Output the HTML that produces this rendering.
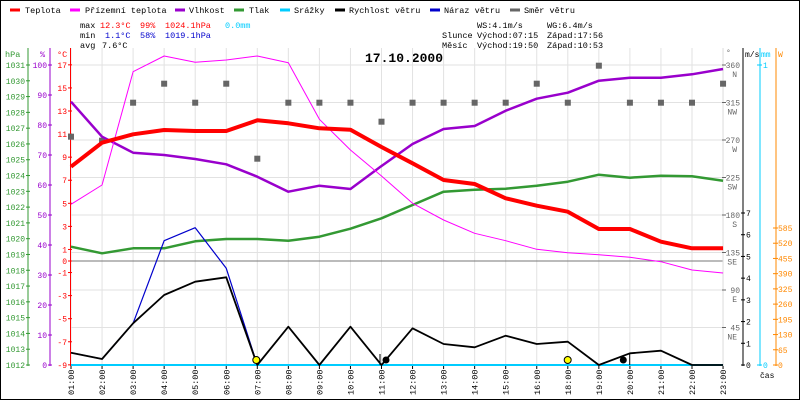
<!DOCTYPE html>
<html><head><meta charset="utf-8"><style>
body{margin:0;background:#fff}
svg{display:block;font-family:"Liberation Mono",monospace;font-size:8.5px}
</style></head><body>
<svg width="800" height="400" viewBox="0 0 800 400" xmlns="http://www.w3.org/2000/svg">
<rect x="0.5" y="0.5" width="799" height="399" fill="#fff" stroke="#000"/>
<g stroke-width="3">
<line x1="10" y1="10" x2="20" y2="10" stroke="#f00"/>
<line x1="70" y1="10" x2="80" y2="10" stroke="#f0f"/>
<line x1="175" y1="10" x2="185" y2="10" stroke="#90c"/>
<line x1="234" y1="10" x2="244" y2="10" stroke="#393"/>
<line x1="280" y1="10" x2="290" y2="10" stroke="#0cf"/>
<line x1="335" y1="10" x2="345" y2="10" stroke="#000"/>
<line x1="430" y1="10" x2="440" y2="10" stroke="#00c"/>
<line x1="510" y1="10" x2="520" y2="10" stroke="#666"/>
</g>
<g fill="#000">
<text x="25" y="13">Teplota</text><text x="85" y="13">Přízemní teplota</text>
<text x="189" y="13">Vlhkost</text><text x="249" y="13">Tlak</text>
<text x="294" y="13">Srážky</text><text x="349" y="13">Rychlost větru</text>
<text x="444" y="13">Náraz větru</text><text x="524" y="13">Směr větru</text>
<text x="80" y="28">max</text><text x="80" y="38">min</text><text x="80" y="48">avg</text>
<text x="100" y="28" fill="#f00">12.3°C</text><text x="140" y="28" fill="#f00">99%</text><text x="165" y="28" fill="#f00">1024.1hPa</text><text x="225" y="28" fill="#0cf">0.0mm</text>
<text x="105" y="38" fill="#00c">1.1°C</text><text x="140" y="38" fill="#00c">58%</text><text x="165" y="38" fill="#00c">1019.1hPa</text>
<text x="102" y="48">7.6°C</text>
<text x="477" y="28">WS:4.1m/s</text><text x="547" y="28">WG:6.4m/s</text>
<text x="442" y="38">Slunce</text><text x="477" y="38">Východ:07:15</text><text x="547" y="38">Západ:17:56</text>
<text x="442" y="48">Měsíc</text><text x="477" y="48">Východ:19:50</text><text x="547" y="48">Západ:10:53</text>
<text x="365" y="62" font-size="13" font-weight="bold">17.10.2000</text>
</g>
<g id="grid"></g>
<g id="axes"></g>
<g id="series"></g>
</svg>
<script>
const NS="http://www.w3.org/2000/svg";
function el(p,t,a,txt){const e=document.createElementNS(NS,t);for(const k in a)e.setAttribute(k,a[k]);if(txt!==undefined)e.textContent=txt;document.getElementById(p).appendChild(e);return e;}
const X=i=>71+31.05*i;
const hrs=["01","02","03","04","05","06","07","08","09","10","11","12","13","14","15","16","18","19","20","21","22","23"];
for(let i=0;i<22;i++){el("grid","line",{x1:X(i),y1:48,x2:X(i),y2:365,stroke:"#e2e2e2","stroke-width":1});
 el("grid","text",{x:0,y:0,transform:`translate(${X(i)+3},395) rotate(-90)`,fill:"#000","font-size":"8.5"},hrs[i]+":00");
 el("grid","line",{x1:X(i),y1:366,x2:X(i),y2:369,stroke:"#000"});}
for(let k=0;k<8;k++){const y=65+37.5*k;el("grid","line",{x1:71,y1:y,x2:723,y2:y,stroke:"#e2e2e2"});}
el("grid","line",{x1:71,y1:261,x2:723,y2:261,stroke:"#777"});
el("axes","line",{x1:28,y1:48,x2:28,y2:366,stroke:"#393"});
el("axes","line",{x1:50,y1:48,x2:50,y2:366,stroke:"#90c"});
el("axes","line",{x1:70.5,y1:48,x2:70.5,y2:366,stroke:"#f00"});
el("axes","text",{x:5,y:57,fill:"#393"},"hPa");
el("axes","text",{x:40,y:57,fill:"#90c"},"%");
el("axes","text",{x:57,y:57,fill:"#f00"},"°C");
for(let p=1012;p<=1031;p++){const y=365-(p-1012)*300/19;el("axes","text",{x:25,y:y+3,fill:"#393","text-anchor":"end","font-size":"8"},p);el("axes","line",{x1:26,y1:y,x2:30,y2:y,stroke:"#393"});}
for(let v=0;v<=100;v+=10){const y=365-v*3;el("axes","text",{x:47,y:y+3,fill:"#90c","text-anchor":"end","font-size":"8"},v);el("axes","line",{x1:48,y1:y,x2:52,y2:y,stroke:"#90c"});}
const T=t=>261-t*300/26;
[17,15,13,11,9,7,5,3,1,0,-1,-3,-5,-7,-9].forEach(t=>{const y=T(t);el("axes","text",{x:67,y:y+3,fill:"#f00","text-anchor":"end","font-size":"8"},t);el("axes","line",{x1:68,y1:y,x2:72,y2:y,stroke:"#f00"});});
el("axes","line",{x1:723,y1:48,x2:723,y2:366,stroke:"#ddd"});
el("axes","line",{x1:743,y1:48,x2:743,y2:366,stroke:"#000"});
el("axes","line",{x1:760,y1:48,x2:760,y2:366,stroke:"#0cf"});
el("axes","line",{x1:776,y1:48,x2:776,y2:366,stroke:"#f80"});
el("axes","text",{x:726,y:55,fill:"#666","font-size":"8"},"°");
el("axes","text",{x:745,y:57,fill:"#000","font-size":"8"},"m/s");
el("axes","text",{x:761,y:57,fill:"#0cf","font-size":"8"},"mm");
el("axes","text",{x:778,y:57,fill:"#f80","font-size":"8"},"W");
[["360","N"],["315","NW"],["270","W"],["225","SW"],["180","S"],["135","SE"],["90","E"],["45","NE"]].forEach((d,k)=>{const y=65+37.5*k;el("axes","text",{x:740,y:y+3,fill:"#666","text-anchor":"end","font-size":"8"},d[0]);el("axes","text",{x:737,y:y+12,fill:"#666","text-anchor":"end","font-size":"8"},d[1]);el("axes","line",{x1:722,y1:y,x2:726,y2:y,stroke:"#666"});});
for(let v=0;v<=7;v++){const y=365-v*152/7;el("axes","text",{x:746,y:y+3,fill:"#000","font-size":"8"},v);el("axes","line",{x1:741,y1:y,x2:745,y2:y,stroke:"#000"});}
[[0,365],[1,65]].forEach(a=>{el("axes","text",{x:763,y:a[1]+3,fill:"#0cf","font-size":"8"},a[0]);el("axes","line",{x1:757,y1:a[1],x2:762,y2:a[1],stroke:"#0cf"});});
for(let w=0;w<=585;w+=65){const y=365-w*137/585;el("axes","text",{x:778,y:y+3,fill:"#f80","font-size":"8"},w);el("axes","line",{x1:773,y1:y,x2:778,y2:y,stroke:"#f80"});}
el("axes","text",{x:760,y:378,fill:"#000","font-size":"8"},"čas");
function pl(ys,c,w){el("series","polyline",{points:ys.map((y,i)=>X(i)+","+y).join(" "),fill:"none",stroke:c,"stroke-width":w,"stroke-linejoin":"round"});}
const dir=[136.7,140.7,102.7,83.7,102.7,83.7,158.7,102.7,102.7,102.7,121.7,102.7,102.7,102.7,102.7,83.7,102.7,65.7,102.7,102.7,102.7,83.7];
dir.forEach((y,i)=>el("series","rect",{x:X(i)-3,y:y-3,width:6,height:6,fill:"#666"}));
pl([246.7,253.3,248.3,248.3,241.3,239,239,240.7,236.7,228.7,218.3,205,191.7,189.7,188.7,185.7,181.7,174.7,177.7,175.7,176.3,180.7],"#393",2.5);
pl([101.7,136.7,152.7,155,159,164.3,176.7,191.7,185.7,189,166,144,129,126,110.7,98.7,92.7,80.7,77.7,77.7,74.3,69],"#90c",2.5);
pl([204.3,185,71.7,56,62.3,60,56,62.7,119.3,150,176,203.3,220,233.3,240.7,249.3,252.7,254.7,257.3,261.7,270,273],"#f0f",1);
pl([166.7,142.7,134.3,130,131,131,120.3,123.3,128.3,129.7,147,163.3,180,184,198.3,205.7,211.7,229,229,241.7,248.3,248.3],"#f00",4);
el("series","line",{x1:71,y1:365,x2:723,y2:365,stroke:"#0cf","stroke-width":2});
pl([352.7,359,323.3,240.7,227.7,268.3,365],"#00c",1.2);
pl([352.7,359,323.3,295,281.7,277.3,365,326.7,365,326.7,365,328.3,344,347.3,335.7,344,341.7,365,353.3,350.7,365,365],"#000",1.8);
el("series","line",{x1:380,y1:354,x2:380,y2:365,stroke:"#000"});
el("series","line",{x1:629.7,y1:353,x2:629.7,y2:365,stroke:"#000"});
el("series","circle",{cx:256.3,cy:360,r:3.5,fill:"#ff0",stroke:"#000","stroke-width":1});
el("series","circle",{cx:567.7,cy:360,r:3.5,fill:"#ff0",stroke:"#000","stroke-width":1});
el("series","circle",{cx:386,cy:360,r:3.5,fill:"#000"});
el("series","circle",{cx:623.3,cy:360,r:3.5,fill:"#000"});
</script>
</body></html>
